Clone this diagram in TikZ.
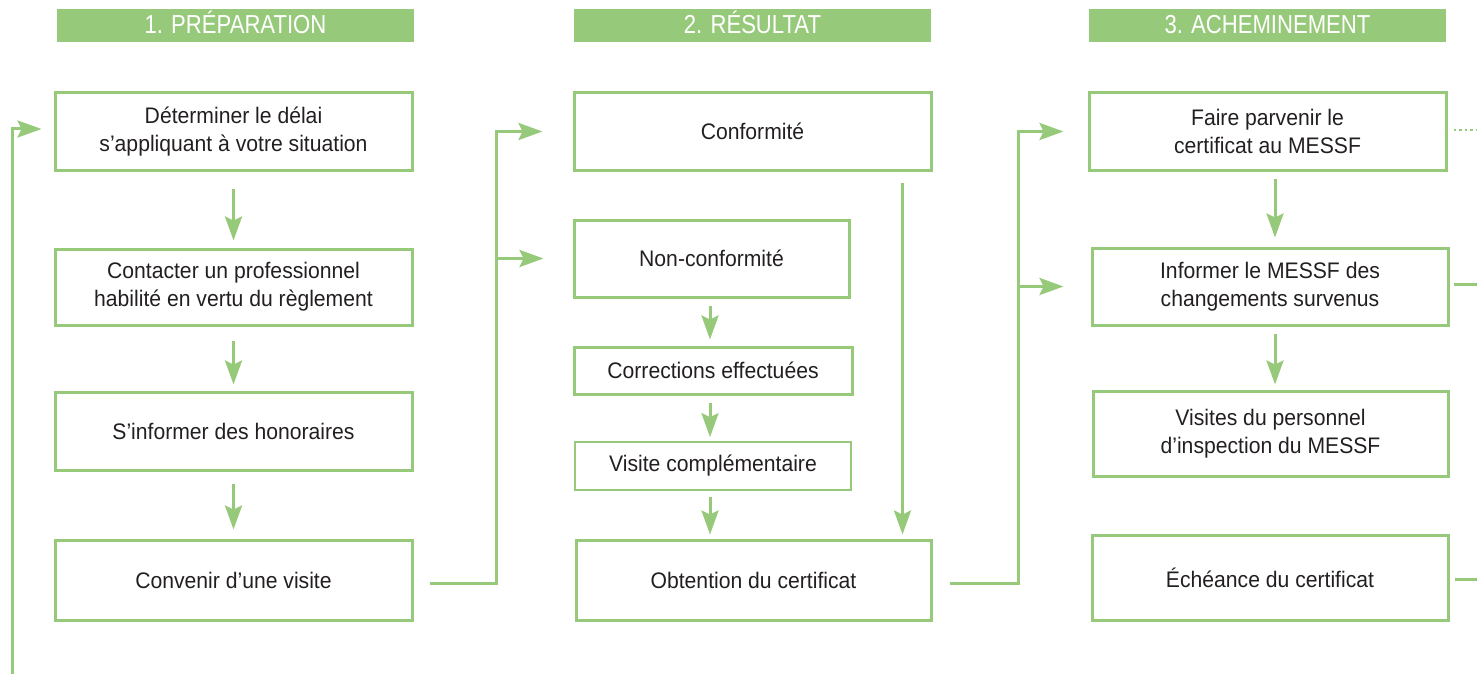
\documentclass[tikz,border=0pt]{standalone}
\usepackage{fontspec}
\setmainfont[FakeStretch=0.94]{Liberation Sans}
\newfontfamily\headfont[FakeStretch=0.85]{Liberation Sans}
\usetikzlibrary{arrows.meta,calc}
\definecolor{grn}{HTML}{97C97A}
\definecolor{txt}{HTML}{231F20}
\tikzset{
  box/.style={draw=grn, line width=3pt, align=center, text=txt, inner sep=0pt,
    font=\fontsize{22.5}{28}\selectfont},
  thinbox/.style={box, line width=1.6pt},
  head/.style={fill=grn, text=white, minimum width=357pt, minimum height=33pt, inner sep=0pt,
    text height=18.7pt, text depth=3.2pt,
    font=\headfont\fontsize{26}{28}\selectfont},
  conn/.style={draw=grn, line width=3pt},
  arr/.style={conn, -{Stealth[length=24pt,width=17pt,inset=4pt]}},
  dots/.style={draw=grn, line width=2.5pt, dash pattern=on 2.5pt off 3pt}
}
\begin{document}
\begin{tikzpicture}[x=1pt,y=-1pt]
\useasboundingbox (0,0) rectangle (1477,674);
% headers
\node[head] (h1) at (235.5,25.5) {1. PRÉPARATION};
\node[head] (h2) at (752.5,25.5) {2. RÉSULTAT};
\node[head] (h3) at (1267.5,25.5) {3. ACHEMINEMENT};
% column 1
\node[box, minimum width=357pt, minimum height=77pt] (b1) at (233.5,131.5) {Déterminer le délai\\s’appliquant à votre situation};
\node[box, minimum width=357pt, minimum height=76pt] (b2) at (233.5,287) {Contacter un professionnel\\habilité en vertu du règlement};
\node[box, minimum width=357pt, minimum height=78pt] (b3) at (233.5,431) {S’informer des honoraires};
\node[box, minimum width=357pt, minimum height=80pt] (b4) at (233.5,580) {Convenir d’une visite};
% column 2
\node[box, minimum width=357pt, minimum height=77pt] (c1) at (752.5,131.5) {Conformité};
\node[box, minimum width=275pt, minimum height=77pt] (c2) at (711.5,258.5) {Non-conformité};
\node[box, minimum width=278pt, minimum height=47pt] (c3) at (713,370.5) {Corrections effectuées};
\node[thinbox, minimum width=276pt, minimum height=48pt] (c4) at (713,466) {Visite complémentaire};
\node[box, minimum width=355pt, minimum height=80pt] (c5) at (753.5,580) {Obtention du certificat};
% column 3
\node[box, minimum width=357pt, minimum height=77pt] (d1) at (1267.5,131.5) {Faire parvenir le\\certificat au MESSF};
\node[box, minimum width=356pt, minimum height=77pt] (d2) at (1270,286.5) {Informer le MESSF des\\changements survenus};
\node[box, minimum width=355pt, minimum height=85pt] (d3) at (1270.5,433.5) {Visites du personnel\\d’inspection du MESSF};
\node[box, minimum width=356pt, minimum height=85pt] (d4) at (1270,577.5) {Échéance du certificat};
% helper coordinates
\coordinate (ax2) at (710,0);
\coordinate (ax3) at (1275,0);
\coordinate (j1) at (496,0);
\coordinate (j2) at (1018,0);
\coordinate (R) at (1477,0);
\coordinate (bl) at (12,674);
% column 1 arrows
\draw[arr, shorten <=17pt, shorten >=7pt] (b1.south) -- (b2.north);
\draw[arr, shorten <=14pt, shorten >=6pt] (b2.south) -- (b3.north);
\draw[arr, shorten <=12pt, shorten >=9pt] (b3.south) -- (b4.north);
% column 2 arrows
\draw[arr, shorten <=7pt, shorten >=6pt] (c2.south -| ax2) -- (c3.north -| ax2);
\draw[arr, shorten <=7pt, shorten >=4pt] (c3.south -| ax2) -- (c4.north -| ax2);
\draw[arr, shorten <=6pt, shorten >=4pt] (c4.south -| ax2) -- (c5.north -| ax2);
\draw[arr, shorten <=11pt, shorten >=4pt] ([xshift=-30pt]c1.south east) -- ([xshift=-30pt]c5.north east);
% column 3 arrows
\draw[arr, shorten <=7pt, shorten >=9pt] (d1.south -| ax3) -- (d2.north -| ax3);
\draw[arr, shorten <=7pt, shorten >=5pt] (d2.south -| ax3) -- (d3.north -| ax3);
% col1 -> col2
\draw[arr] ([xshift=16pt,yshift=-3pt]b4.east) -| (j1 |- c1.west) -- ([xshift=-30pt]c1.west);
\draw[arr] (j1 |- c2.west) -- ([xshift=-29pt]c2.west);
% col2 -> col3
\draw[arr] ([xshift=17pt,yshift=-3pt]c5.east) -| (j2 |- d1.west) -- ([xshift=-24pt]d1.west);
\draw[arr] (j2 |- d2.west) -- ([xshift=-27pt]d2.west);
% loop back on the left
\draw[arr] (bl) |- ([xshift=-12pt,yshift=2.5pt]b1.west);
% stubs on the right
\draw[dots] ([xshift=6pt,yshift=1.5pt]d1.east) -- ($(d1.east -| R)+(0,-1.5)$);
\draw[conn] ([xshift=4pt,yshift=2.5pt]d2.east) -- ($(d2.east -| R)+(0,-2.5)$);
\draw[conn] ([xshift=5pt,yshift=-1.5pt]d4.east) -- ($(d4.east -| R)+(0,1.5)$);
\end{tikzpicture}
\end{document}
